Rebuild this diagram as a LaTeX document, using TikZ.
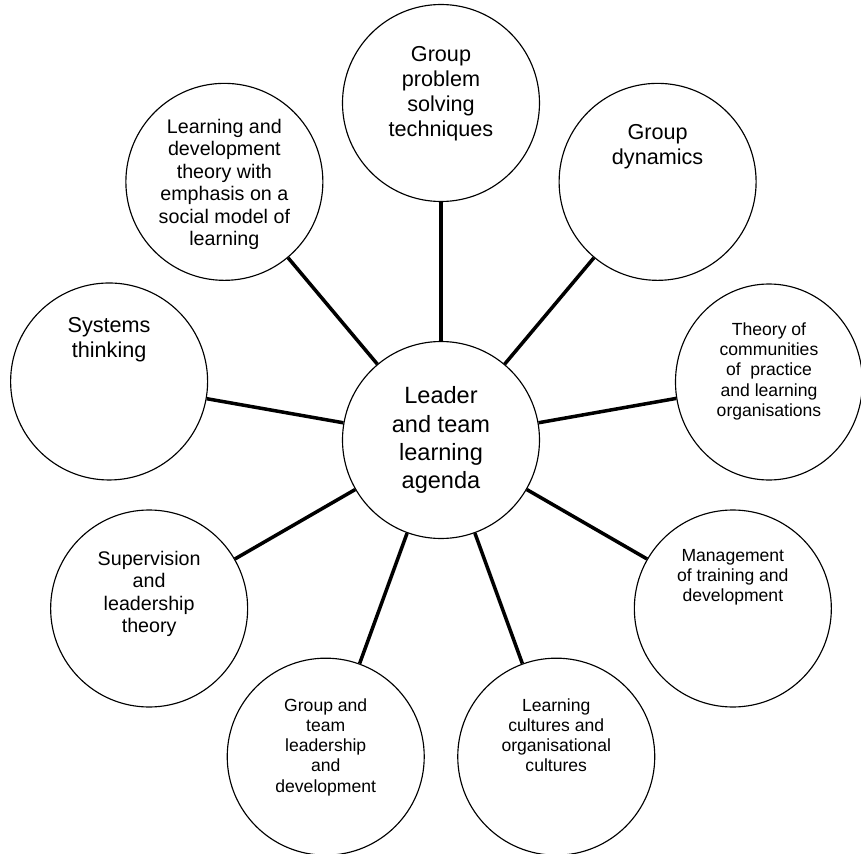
\documentclass[tikz,border=0pt]{standalone}
\usepackage{fontspec}
\setmainfont{Liberation Sans}
\usetikzlibrary{positioning,shapes.geometric}

\begin{document}
\begin{tikzpicture}[hub_node/.style={circle,draw,line width=0.65pt,minimum size=3.94cm,inner sep=0pt,align=center,font=\fontsize{13.4}{16}\selectfont},
    spoke_node/.style={circle,draw,line width=0.65pt,minimum size=3.94cm,inner sep=0pt},
    big_text/.style={align=center,inner sep=0pt,font=\fontsize{12.3}{14.2}\selectfont},
    mid_text/.style={align=center,inner sep=0pt,font=\fontsize{11.2}{12.8}\selectfont},
    small_text/.style={align=center,inner sep=0pt,font=\fontsize{10}{11.5}\selectfont},
    link/.style={line width=2pt}]

    \useasboundingbox (-8.82,-8.28) rectangle (8.40,8.80);

    \node[hub_node] (0) at (0,0) {Leader\\and team\\learning\\agenda};
    \node[spoke_node] (1) at (90:6.74) {};
    \node[spoke_node] (2) at (50:6.74) {};
    \node[ellipse,draw,line width=0.65pt,minimum width=3.74cm,minimum height=3.92cm,inner sep=0pt] (3) at (6.56,1.16) {};
    \node[spoke_node] (4) at (-30:6.74) {};
    \node[spoke_node] (5) at (-70:6.74) {};
    \node[spoke_node] (6) at (-110:6.74) {};
    \node[spoke_node] (7) at (-150:6.74) {};
    \node[spoke_node] (8) at (170:6.74) {};
    \node[spoke_node] (9) at (130:6.74) {};

    \node[big_text, below=0.85cm of 1.north] (t1) {Group\\problem\\solving\\techniques};
    \node[big_text, below=0.82cm of 2.north] (t2) {Group\\dynamics};
    \node[small_text, below=0.78cm of 3.north] (t3) {Theory of\\communities\\of~~practice\\and learning\\organisations};
    \node[small_text, below=0.79cm of 4.north] (t4) {Management\\of training and\\development};
    \node[small_text, below=0.81cm of 5.north] (t5) {Learning\\cultures and\\organisational\\cultures};
    \node[small_text, below=0.81cm of 6.north] (t6) {Group and\\team\\leadership\\and\\development};
    \node[mid_text, below=0.82cm of 7.north] (t7) {Supervision\\and\\leadership\\theory};
    \node[big_text, below=0.69cm of 8.north] (t8) {Systems\\thinking};
    \node[mid_text, below=0.72cm of 9.north] (t9) {Learning and\\development\\theory with\\emphasis on a\\social model of\\learning};

    \draw[link] (0) -- (1);
    \draw[link] (0) -- (2);
    \draw[link] (0) -- (3);
    \draw[link] (0) -- (4);
    \draw[link] (0) -- (5);
    \draw[link] (0) -- (6);
    \draw[link] (0) -- (7);
    \draw[link] (0) -- (8);
    \draw[link] (0) -- (9);
\end{tikzpicture}
\end{document}
